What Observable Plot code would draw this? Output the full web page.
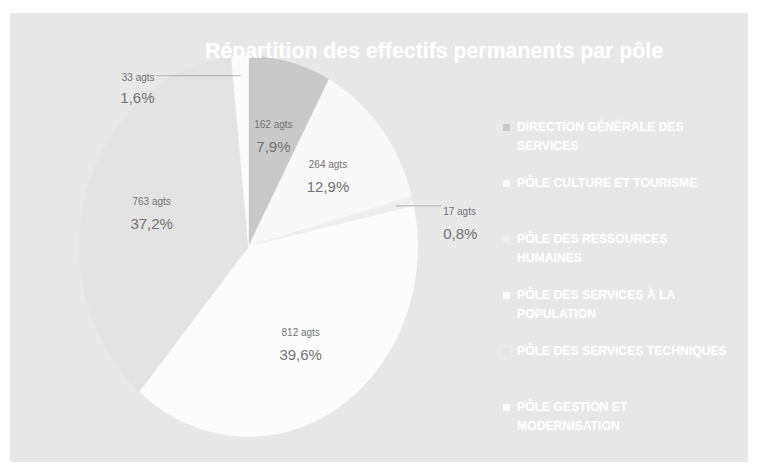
<!DOCTYPE html>
<html>
<head>
<meta charset="utf-8">
<script src="https://cdn.jsdelivr.net/npm/d3@7"></script>
<script src="https://cdn.jsdelivr.net/npm/@observablehq/plot@0.6"></script>
<style>
  html, body { margin: 0; padding: 0; }
  body { width: 758px; height: 473px; overflow: hidden; position: relative; background: #ffffff;
         font-family: "Liberation Sans", Arial, sans-serif; }
  #panel { position: absolute; left: 10px; top: 13px; width: 738px; height: 449px; background: #e8e8e8; }
  #chart { position: absolute; left: 0; top: 0; }
  #title { position: absolute; left: 175px; top: 38px; width: 518px; text-align: center; white-space: nowrap;
           font-family: "Liberation Sans", Arial, sans-serif;
           font-weight: bold; font-size: 21.3px; line-height: 26px; color: #ffffff; }
  #legend { position: absolute; left: 503px; top: 118px; }
  .item { position: absolute; left: 0; white-space: pre-line; padding-left: 14px;
          font-family: "Liberation Sans", Arial, sans-serif;
          font-weight: bold; font-size: 12.2px; line-height: 19px; color: #ffffff; width: 240px; }
  .swatch { position: absolute; left: 0; top: 6px; width: 7px; height: 7px; }
</style>
</head>
<body>
<div id="panel"></div>
<div id="chart"></div>
<div id="title">Répartition des effectifs permanents par pôle</div>
<div id="legend"></div>
<script>
// ---- data ----
const poles = [
  "DIRECTION GÉNÉRALE DES SERVICES",
  "PÔLE CULTURE ET TOURISME",
  "PÔLE DES RESSOURCES HUMAINES",
  "PÔLE DES SERVICES À LA POPULATION",
  "PÔLE DES SERVICES TECHNIQUES",
  "PÔLE GESTION ET MODERNISATION"
];
const legendLines = [
  "DIRECTION GÉNÉRALE DES\nSERVICES",
  "PÔLE CULTURE ET TOURISME",
  "PÔLE DES RESSOURCES\nHUMAINES",
  "PÔLE DES SERVICES À LA\nPOPULATION",
  "PÔLE DES SERVICES TECHNIQUES",
  "PÔLE GESTION ET\nMODERNISATION"
];
const agents = [162, 264, 17, 812, 763, 33];
const sliceColors = ["#c9c9c9", "#f8f8f8", "#eeeeee", "#fcfcfc", "#e3e3e3", "#fbfbfb"];

// ---- derived geometry (data units, unit circle) ----
const total = d3.sum(agents);
const fmtPct = v => d3.format(".1f")(v).replace(".", ",") + "%";
const arcs = d3.pie().sort(null).value(d => d)(agents);

const poly = [];
arcs.forEach((a, i) => {
  const name = poles[i];
  poly.push({name, x: 0, y: 0});
  const n = Math.max(2, Math.ceil((a.endAngle - a.startAngle) / 0.01));
  for (let k = 0; k <= n; k++) {
    const t = a.startAngle + (a.endAngle - a.startAngle) * k / n;
    poly.push({name, x: Math.sin(t), y: Math.cos(t)});
  }
  poly.push({name, x: 0, y: 0});
});

const labels = arcs.map((a, i) => {
  const mid = (a.startAngle + a.endAngle) / 2;
  const pct = 100 * agents[i] / total;
  return {name: poles[i], mid, pct, count: agents[i] + " agts", pctText: fmtPct(pct)};
});

const inside = labels.filter(d => d.pct >= 5).map(d => ({...d, x: 0.6 * Math.sin(d.mid), y: 0.6 * Math.cos(d.mid)}));
const outside = labels.filter(d => d.pct < 5).map(d => {
  const x1 = 0.9 * Math.sin(d.mid), y1 = 0.9 * Math.cos(d.mid);
  const left = Math.sin(d.mid) < 0;
  return {...d, x1, y1, x2: left ? -0.55 : 1.14, y2: y1, left};
});

const labelFont = {fontFamily: "Liberation Sans, Arial, sans-serif"};
const chart = Plot.plot({
  width: 758,
  height: 473,
  margin: 0,
  style: {background: "transparent", overflow: "visible", fontFamily: "Liberation Sans, Arial, sans-serif"},
  x: {domain: [-1, 1], range: [79, 417], axis: null},
  y: {domain: [-1, 1], range: [436, 56], axis: null},
  color: {domain: poles, range: sliceColors},
  marks: [
    Plot.line(poly, {x: "x", y: "y", z: "name", fill: "name", stroke: "name", strokeWidth: 0.6}),
    Plot.link(outside, {x1: "x1", y1: "y1", x2: "x2", y2: "y2", stroke: "#a0a0a0", strokeWidth: 0.8}),
    Plot.text(inside, {x: "x", y: "y", text: "count", dy: -11, fontSize: 10, fill: "#727272", ...labelFont}),
    Plot.text(inside, {x: "x", y: "y", text: "pctText", dy: 11, fontSize: 15, fill: "#727272", ...labelFont}),
    Plot.text(outside.filter(d => d.left), {x: "x2", y: "y2", text: "count", dy: 2, dx: -1, textAnchor: "end", fontSize: 10, fill: "#727272", ...labelFont}),
    Plot.text(outside.filter(d => d.left), {x: "x2", y: "y2", text: "pctText", dy: 22, dx: -1, textAnchor: "end", fontSize: 15, fill: "#727272", ...labelFont}),
    Plot.text(outside.filter(d => !d.left), {x: "x2", y: "y2", text: "count", dy: 6, dx: 2, textAnchor: "start", fontSize: 10, fill: "#727272", ...labelFont}),
    Plot.text(outside.filter(d => !d.left), {x: "x2", y: "y2", text: "pctText", dy: 28, dx: 2, textAnchor: "start", fontSize: 15, fill: "#727272", ...labelFont})
  ]
});
document.getElementById("chart").append(chart);

// ---- legend ----
const legend = document.getElementById("legend");
legendLines.forEach((txt, i) => {
  const item = document.createElement("div");
  item.className = "item";
  item.style.top = (i * 56) + "px";
  const sw = document.createElement("span");
  sw.className = "swatch";
  sw.style.background = sliceColors[i];
  item.appendChild(sw);
  item.appendChild(document.createTextNode(txt));
  legend.appendChild(item);
});
</script>
</body>
</html>
